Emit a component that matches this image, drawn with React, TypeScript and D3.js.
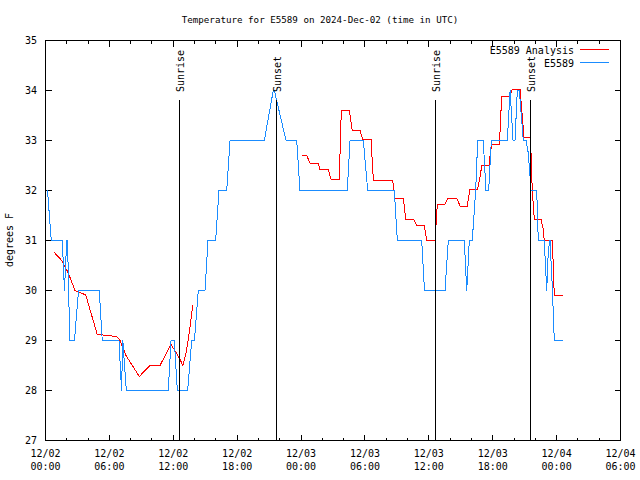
import React from "react";
import * as d3 from "d3";

// Hours since 2024-12-02 00:00 UTC
const obsHours = [
  0.19, 0.54, 1.58, 1.78, 1.99, 2.07, 2.28, 2.72, 3.1, 5.05, 5.33, 6.9, 7.14, 7.26, 7.59,
  11.53, 11.79, 12.1, 12.38, 13.35, 13.73, 13.99, 14.35, 14.98, 15.26, 15.98, 16.29, 17.02,
  17.33, 20.55, 21.39, 21.49, 22.59, 23.59, 23.9, 28.34, 28.6, 29.85, 30.26, 32.76, 33.04,
  35.33, 35.59, 37.52, 37.83, 39.33, 39.56, 39.8, 40.08, 40.4, 40.59, 41.11, 41.37, 41.62,
  41.87, 43.37, 43.63, 43.91, 44.09, 44.31, 44.5, 44.87, 45.13, 45.34, 45.5, 45.57, 46.13,
  46.28, 46.84, 47.07, 47.22, 47.38, 47.61, 47.78, 48.63,
];
const obsTemps = [
  32, 31, 31, 30, 31, 31, 29, 29, 30, 30, 29, 29, 28, 29, 28,
  28, 29, 29, 28, 28, 29, 29, 30, 30, 31, 31, 32, 32,
  33, 33, 34, 34, 33, 33, 32, 32, 33, 33, 32, 32, 31,
  31, 30, 30, 31, 31, 30, 31, 31, 32, 33, 33, 32, 32,
  33, 33, 34, 33, 33, 34, 34, 33, 33, 32.75, 32.3, 32, 32,
  31, 31, 30, 30.8, 31, 30, 29, 29,
];

const anaHours = [
  0.83, 1.52, 2.14, 2.77, 3.15, 3.78, 4.86, 5.96, 6.74, 7.0, 7.56, 8.81, 9.81, 10.75,
  11.79, 12.63, 12.89, 13.22, 13.53, 13.82,
  18.0,
  24.12, 24.53, 24.84, 25.62, 25.78, 26.56, 26.81, 27.59, 27.78, 28.53, 28.81, 29.54,
  29.79, 30.57, 30.79, 31.67, 32.61, 32.82, 33.6, 33.83, 34.54, 34.86, 35.57, 35.8, 36.58,
  36.8, 37.52, 37.83, 38.62, 38.93, 39.61, 39.87, 40.59, 40.81, 40.97, 41.68, 41.75, 41.91,
  42.62, 42.68, 42.84, 43.56, 43.87, 44.56, 44.72, 44.94, 45.5, 45.59, 45.66, 45.81, 45.91,
  46.53, 46.75, 46.84, 47.6, 47.78, 48.57,
];
const anaTemps: (number | null)[] = [
  30.76, 30.6, 30.35, 30.0, 29.97, 29.91, 29.12, 29.1, 29.07, 29.0, 28.7, 28.28, 28.5, 28.5,
  28.92, 28.63, 28.5, 28.77, 29.2, 29.7,
  null,
  32.7, 32.7, 32.55, 32.55, 32.42, 32.42, 32.23, 32.23, 33.61, 33.61, 33.2, 33.2,
  33.02, 33.02, 32.21, 32.21, 32.19, 31.85, 31.85, 31.43, 31.43, 31.3, 31.3, 31.0, 31.0,
  31.73, 31.73, 31.85, 31.85, 31.69, 31.69, 32.03, 32.03, 32.27, 32.5, 32.5, 32.7, 32.92,
  32.92, 33.15, 33.88, 33.88, 34.03, 34.03, 33.63, 33.07, 33.07, 32.8, 32.27, 31.7, 31.43,
  31.43, 31.23, 31.0, 31.0, 29.91, 29.91,
];

const sunLabels = ["Sunrise", "Sunset", "Sunrise", "Sunset"];
const sunHours = [12.57, 21.62, 36.61, 45.53];

const yTickValues = [27, 28, 29, 30, 31, 32, 33, 34, 35];
const seriesNames = ["E5589 Analysis", "E5589"];
const seriesColors = ["#ff0000", "#1a8cff"];
const titleText = "Temperature for E5589 on 2024-Dec-02 (time in UTC)";
const yLabel = "degrees F";

const BASE = Date.UTC(2024, 11, 2, 0, 0);
const toDate = (h: number) => new Date(BASE + h * 3600e3);

const FONT = "'DejaVu Sans Mono', monospace";

export default function App() {
  const x = d3.scaleUtc().domain([toDate(0), toDate(54)]).range([45.5, 620.5]);
  const y = d3.scaleLinear().domain([27, 35]).range([440.5, 40.5]);

  const majorTicks = x.ticks(d3.utcHour.every(6)!);
  const minorTicks = x.ticks(d3.utcHour.every(2)!).filter((d) => d.getUTCHours() % 6 !== 0);
  const fmtDay = d3.utcFormat("%m/%d");
  const fmtTime = d3.utcFormat("%H:%M");

  type P = { t: Date; v: number | null };
  const obs: P[] = obsHours.map((h, i) => ({ t: toDate(h), v: obsTemps[i] }));
  const ana: P[] = anaHours.map((h, i) => ({ t: toDate(h), v: anaTemps[i] }));
  const line = d3
    .line<P>()
    .defined((d) => d.v !== null)
    .x((d) => x(d.t))
    .y((d) => y(d.v as number));

  const left = x.range()[0];
  const right = x.range()[1];
  const top = y.range()[1];
  const bottom = y.range()[0];

  return (
    <svg
      width={640}
      height={480}
      style={{ position: "absolute", left: 0, top: 0, background: "#fff" }}
      fontFamily={FONT}
      fontSize={10}
    >
      <rect x={0} y={0} width={640} height={480} fill="#fff" />
      <text x={320} y={23} textAnchor="middle" fontSize={9.2}>
        {titleText}
      </text>

      {/* y ticks */}
      {yTickValues.map((v) => (
        <g key={"y" + v}>
          <line x1={left} x2={left + 6} y1={y(v)} y2={y(v)} stroke="#000" shapeRendering="crispEdges" />
          <line x1={right} x2={right - 6} y1={y(v)} y2={y(v)} stroke="#000" shapeRendering="crispEdges" />
          <text x={37} y={y(v) + 3.5} textAnchor="end">
            {v}
          </text>
        </g>
      ))}

      {/* x ticks */}
      {majorTicks.map((d, i) => (
        <g key={"xm" + i}>
          <line x1={x(d)} x2={x(d)} y1={bottom} y2={bottom - 6} stroke="#000" shapeRendering="crispEdges" />
          <line x1={x(d)} x2={x(d)} y1={top} y2={top + 6} stroke="#000" shapeRendering="crispEdges" />
          <text x={x(d)} y={457} textAnchor="middle">
            {fmtDay(d)}
          </text>
          <text x={x(d)} y={470} textAnchor="middle">
            {fmtTime(d)}
          </text>
        </g>
      ))}
      {minorTicks.map((d, i) => (
        <g key={"xn" + i}>
          <line x1={x(d)} x2={x(d)} y1={bottom} y2={bottom - 3} stroke="#000" shapeRendering="crispEdges" />
          <line x1={x(d)} x2={x(d)} y1={top} y2={top + 3} stroke="#000" shapeRendering="crispEdges" />
        </g>
      ))}

      <text transform={`translate(13,240) rotate(-90)`} textAnchor="middle">
        {yLabel}
      </text>

      {/* data */}
      <path d={line(ana) || ""} fill="none" stroke={seriesColors[0]} strokeWidth={1} shapeRendering="crispEdges" />
      <path d={line(obs) || ""} fill="none" stroke={seriesColors[1]} strokeWidth={1} shapeRendering="crispEdges" />

      {/* sun events */}
      {sunHours.map((h, i) => {
        const sx = Math.round(x(toDate(h))) + 0.5;
        return (
          <g key={"s" + i}>
            <line x1={sx} x2={sx} y1={100} y2={bottom} stroke="#000" shapeRendering="crispEdges" />
            <text transform={`translate(${sx + 4.5},92) rotate(-90)`} textAnchor="start">
              {sunLabels[i]}
            </text>
          </g>
        );
      })}

      {/* frame */}
      <rect
        x={left}
        y={top}
        width={right - left}
        height={bottom - top}
        fill="none"
        stroke="#000"
        shapeRendering="crispEdges"
      />

      {/* legend */}
      {seriesNames.map((n, i) => (
        <g key={"l" + i}>
          <text x={574} y={54 + i * 12.5} textAnchor="end">
            {n}
          </text>
          <line
            x1={580}
            x2={609}
            y1={49.5 + i * 12.5}
            y2={49.5 + i * 12.5}
            stroke={seriesColors[i]}
            shapeRendering="crispEdges"
          />
        </g>
      ))}
    </svg>
  );
}
